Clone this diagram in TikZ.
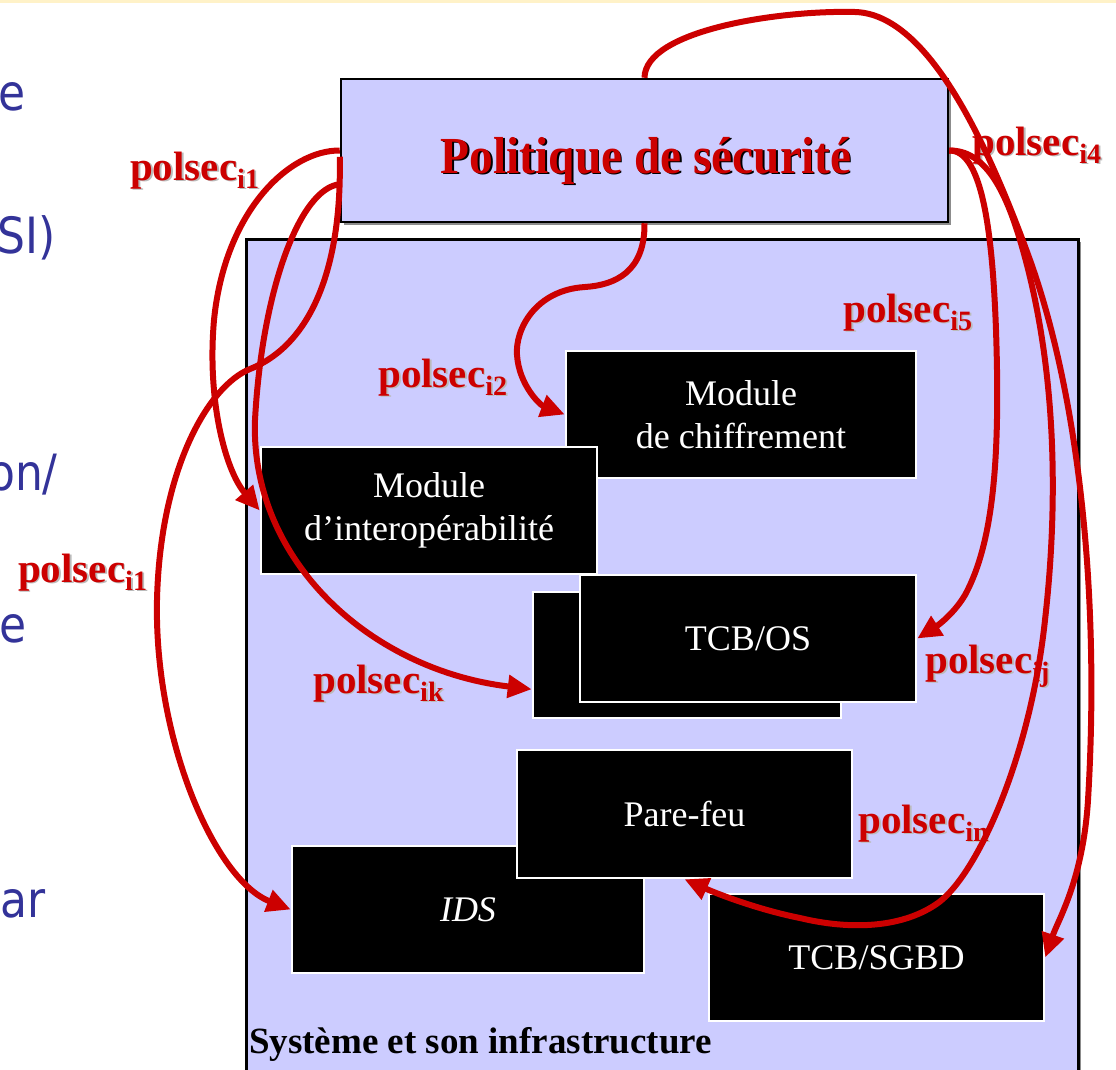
\documentclass[tikz,border=0pt]{standalone}
\usepackage{fontspec}
\setmainfont{Liberation Serif}
\newfontfamily\vfont[FakeStretch=0.88]{DejaVu Sans}
\newfontfamily\polfont[FakeStretch=0.91]{Liberation Serif}
\usetikzlibrary{arrows.meta,calc,shadows}
\definecolor{lav}{HTML}{CCCCFF}
\definecolor{pred}{HTML}{CC0000}
\definecolor{sblue}{HTML}{333399}
\definecolor{shgray}{HTML}{BBBBBB}
\definecolor{topline}{HTML}{FFF2C8}
\newcommand\shtxt[4]{\leavevmode\rlap{\hspace{#2}\raisebox{#3}{\color{#1}#4}}#4}
\newcommand\plabel[1]{\shtxt{shgray}{1.8pt}{-1.8pt}{polsec\raisebox{-8pt}{\fontsize{28}{28}\selectfont #1}}}
\begin{document}
\begin{tikzpicture}[x=1pt,y=-1pt,
  blk/.style={fill=black,draw=white,line width=2.5pt,inner sep=0pt,text=white,
    font=\fontsize{36}{43}\selectfont,align=center},
  lav box/.style={fill=lav,draw=black,line width=2.5pt,inner sep=0pt,
    drop shadow={shadow xshift=2.5pt,shadow yshift=-2.5pt,fill=black!45,opacity=1}},
  lbl/.style={text=pred,font=\fontsize{41}{41}\selectfont\bfseries,inner sep=0pt,anchor=base west},
  bluetxt/.style={text=sblue,font=\vfont\fontsize{50}{50}\selectfont,inner sep=0pt,anchor=base east},
  conn/.style={draw=pred,line width=6pt,-{Triangle[length=24pt,width=22pt]}}]
\useasboundingbox (0,0) rectangle (1116,1069);
\clip (0,0) rectangle (1116,1069);
\fill[topline] (0,0) rectangle (1116,3);

% left slide text fragments
\node[bluetxt] (b1) at (26,110) {e};
\node[bluetxt] (b2) at (56,253) {SI)};
\node[bluetxt] (b3) at (58,490) {on/};
\node[bluetxt] (b4) at (27,642) {e};
\node[bluetxt] (b5) at (46,917) {par};

% system box
\node[lav box,minimum width=832pt,minimum height=850pt,anchor=north west] (sys) at (245,238) {};
% policy box
\node[lav box,minimum width=607pt,minimum height=143pt] (pol) at (644.5,150.5) {};
\node[text=pred,font=\polfont\fontsize{52}{52}\selectfont\bfseries,inner sep=0pt,anchor=base] (poltxt) at (646,173)
  {\shtxt{black}{1.5pt}{-1.5pt}{Politique de sécurité}};

% components
\node[blk,minimum width=350pt,minimum height=127pt] (chiff) at (741,414.5) {Module\\de chiffrement};
\node[blk,minimum width=336pt,minimum height=127pt] (interop) at (429,510.5) {Module\\d’interopérabilité};
\node[blk,minimum width=308pt,minimum height=126pt] (osback) at (687,655) {};
\node[blk,minimum width=336pt,minimum height=127pt] (os) at (748,638.5) {TCB/OS};
\node[blk,minimum width=352pt,minimum height=127pt] (ids) at (468,909.5) {\textit{IDS}};
\node[blk,minimum width=335pt,minimum height=128pt] (pare) at (684.5,814) {Pare-feu};
\node[blk,minimum width=335pt,minimum height=127pt] (sgbd) at (876.5,957.5) {TCB/SGBD};

\node[inner sep=0pt,anchor=base west,font=\fontsize{37}{37}\selectfont\bfseries] (syslbl) at (249,1053)
  {Système et son infrastructure};

% labels
\node[lbl] (l1) at (130,180) {\plabel{i1}};
\node[lbl] (l1b) at (18,582) {\plabel{i1}};
\node[lbl] (l2) at (378,387) {\plabel{i2}};
\node[lbl] (l5) at (843,322) {\plabel{i5}};
\node[lbl] (l4) at (972,155) {\plabel{i4}};
\node[lbl] (lj) at (925,673) {\plabel{ij}};
\node[lbl] (lk) at (313,693) {\plabel{ik}};
\node[lbl] (ln) at (858,833) {\plabel{in}};

% start / end points on box edges
\coordinate (pwB) at ($(pol.south west)+(0,-39)$);
\coordinate (pwC) at ($(pol.north west)+(0,79)$);
\coordinate (osin) at ($(osback.south west)+(0,-30)$);

% connectors
\draw[conn] (pol.south) .. controls (645,272) and (615,285) .. (585,287)
  .. controls (535,290) and (515,330) .. (517,355)
  .. controls (519,385) and (540,405) .. (chiff.west);
\draw[conn] (pol.north) .. controls (645,30) and (780,10) .. (855,12)
  .. controls (930,14) and (990,150) .. (1030,260)
  .. controls (1080,400) and (1100,600) .. (1088,800)
  .. controls (1083,880) and (1058,920) .. (sgbd.east);
\draw[conn] (pol.east) .. controls (980,150) and (992,220) .. (996,330)
  .. controls (1000,450) and (995,540) .. (965,595)
  .. controls (955,612) and (940,624) .. (os.east);
\draw[conn] (pol.east) .. controls (985,150) and (1005,190) .. (1020,240)
  .. controls (1050,340) and (1062,470) .. (1045,620)
  .. controls (1030,760) and (975,880) .. (935,905)
  .. controls (900,928) and (850,930) .. (800,918)
  .. controls (760,910) and (720,895) .. (pare.south);
\draw[conn] (pol.west) .. controls (290,150) and (225,210) .. (214,320)
  .. controls (207,400) and (225,470) .. (interop.west);
\draw[conn] (pwB) .. controls (300,188) and (262,290) .. (255,420)
  .. controls (250,560) and (370,670) .. (osin);
\draw[conn] (pwC) .. controls (342,270) and (310,345) .. (250,369)
  .. controls (208,386) and (160,470) .. (157,600)
  .. controls (154,740) and (215,880) .. (ids.west);
\end{tikzpicture}
\end{document}
